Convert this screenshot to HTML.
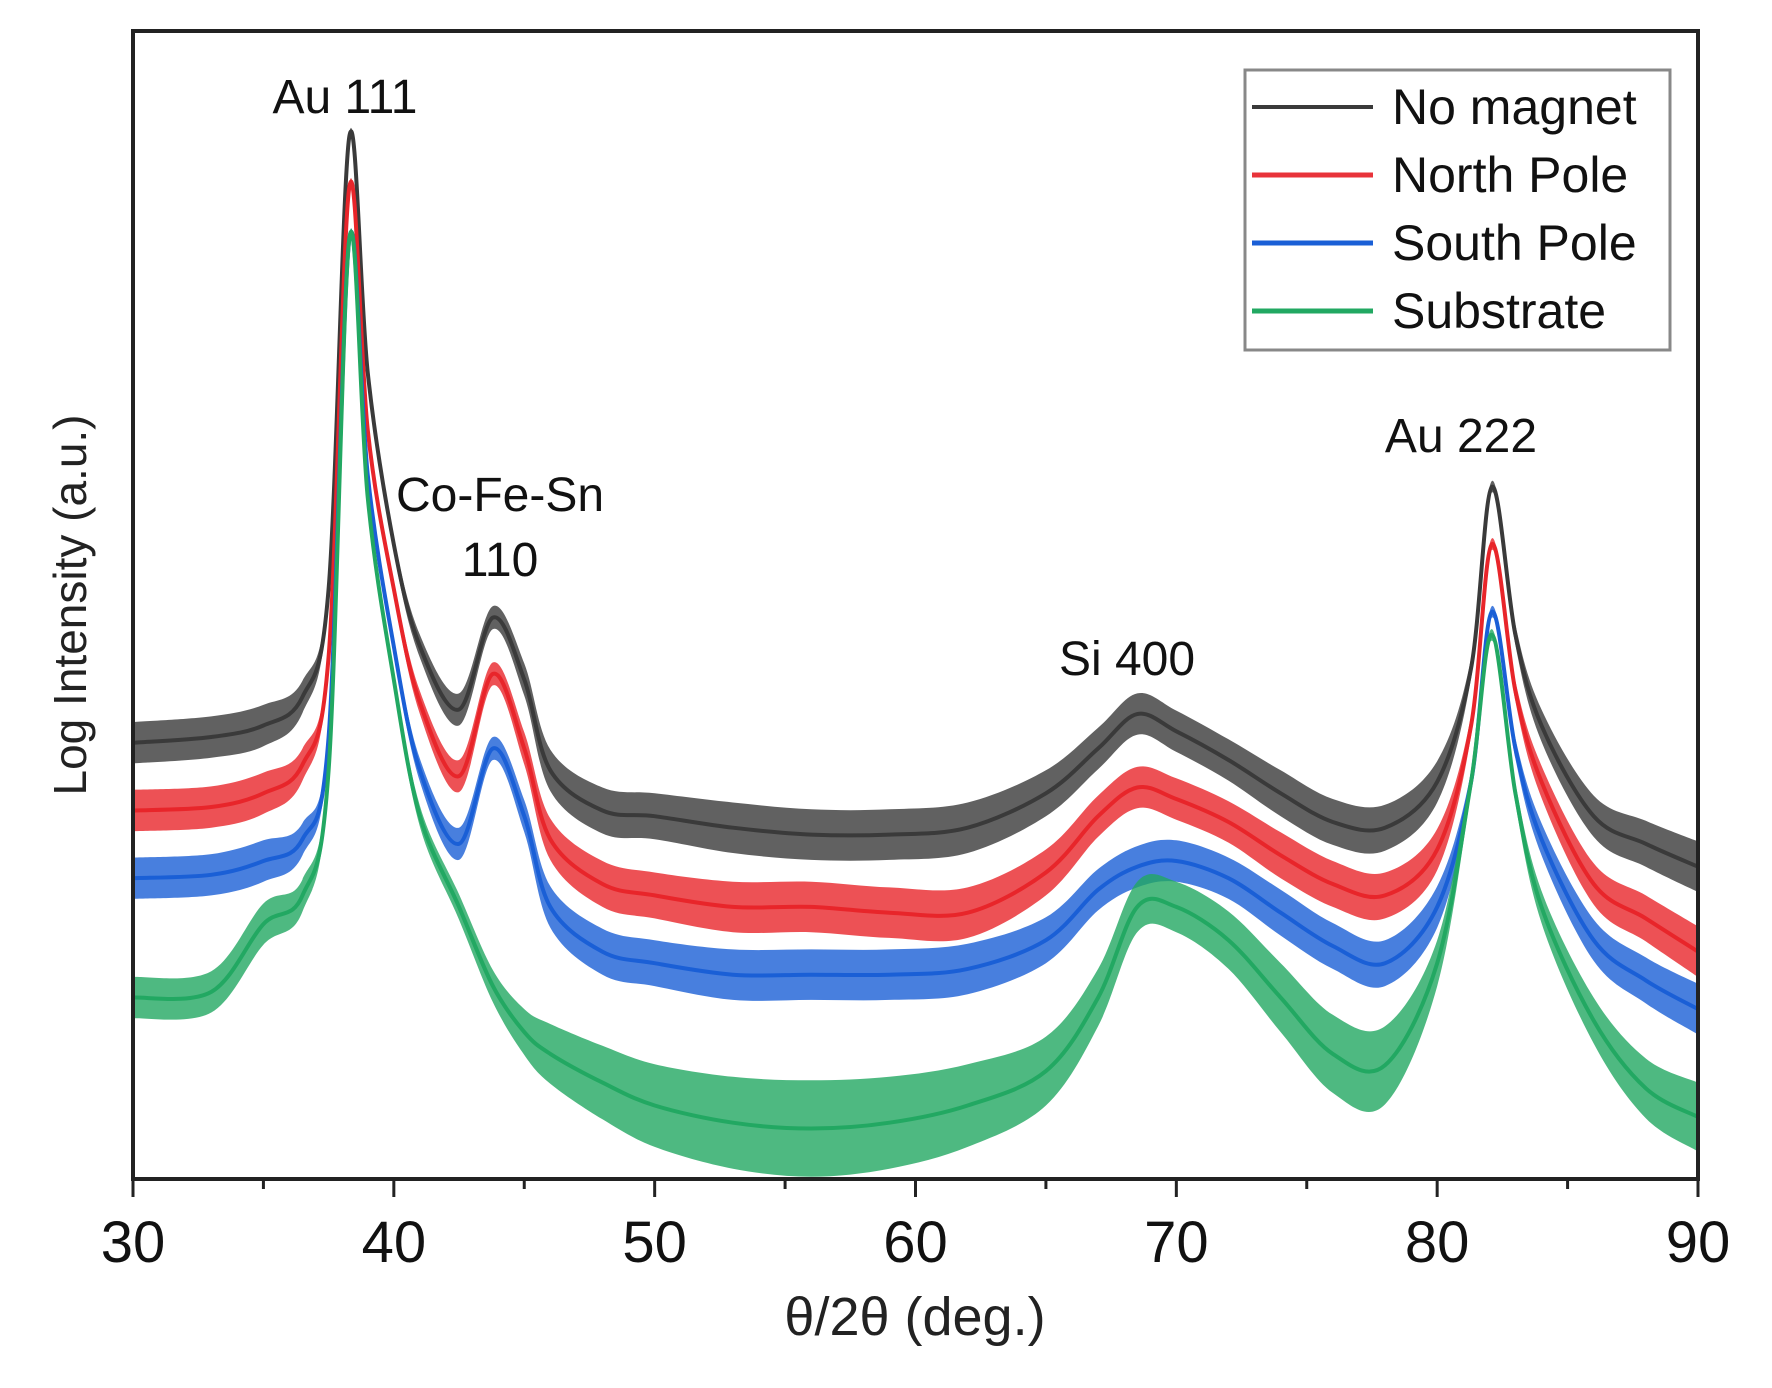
<!DOCTYPE html>
<html><head><meta charset="utf-8"><style>
html,body{margin:0;padding:0;background:#fff;}
svg{display:block;font-family:"Liberation Sans",sans-serif;}
</style></head><body>
<svg id="chart" width="1772" height="1388" viewBox="0 0 1772 1388">
<g id="series"></g>
<rect x="133" y="31" width="1565" height="1148" fill="none" stroke="#222" stroke-width="4"/>
<g id="xticks"></g>
<text x="915" y="1335" font-size="54" text-anchor="middle" fill="#222">θ/2θ (deg.)</text>
<text transform="translate(86,605) rotate(-90)" font-size="46" text-anchor="middle" fill="#222">Log Intensity (a.u.)</text>
<text x="345" y="113" font-size="48" text-anchor="middle" fill="#111">Au 111</text>
<text x="500" y="511" font-size="48" text-anchor="middle" fill="#111">Co-Fe-Sn</text>
<text x="500" y="576" font-size="48" text-anchor="middle" fill="#111">110</text>
<text x="1127" y="675" font-size="48" text-anchor="middle" fill="#111">Si 400</text>
<text x="1461" y="452" font-size="48" text-anchor="middle" fill="#111">Au 222</text>
<g>
<rect x="1245" y="70" width="425" height="280" fill="#fff" stroke="#888" stroke-width="3"/>
<line x1="1252" y1="107" x2="1373" y2="107" stroke="#3a3a3a" stroke-width="4"/>
<text x="1392" y="124" font-size="50" fill="#111">No magnet</text>
<line x1="1252" y1="175" x2="1373" y2="175" stroke="#e8333a" stroke-width="5"/>
<text x="1392" y="192" font-size="50" fill="#111">North Pole</text>
<line x1="1252" y1="243" x2="1373" y2="243" stroke="#1a5fd6" stroke-width="5"/>
<text x="1392" y="260" font-size="50" fill="#111">South Pole</text>
<line x1="1252" y1="311" x2="1373" y2="311" stroke="#22a862" stroke-width="5"/>
<text x="1392" y="328" font-size="50" fill="#111">Substrate</text>
</g>
</svg>
<script>
const xCats=[30,33,35,36.5,37.5,38.3,39,40,41,42.5,43.8,45,46,48,50,53,56,59,62,65,67,68.5,70,72,74,76,78,80,81.3,82.1,83,84,86,88,90];
const noMagnet=[38.0,38.5,39.5,42.0,51.4,90.9,70.2,55.3,46.4,40.9,48.9,43.5,35.6,32.1,31.6,30.6,30.0,30.0,30.6,33.6,37.5,40.5,39.0,36.5,33.6,31.1,30.6,34.6,44.5,60.3,47.4,39.5,31.6,29.2,27.2];
const northPole=[32.1,32.4,33.6,36.1,45.5,86.5,65.2,51.4,41.5,35.1,44.0,37.5,29.6,25.7,24.7,23.7,23.7,23.2,23.2,26.7,31.6,34.1,33.1,31.1,28.2,25.7,24.7,28.7,39.5,55.3,42.5,34.6,25.7,22.7,19.8];
const southPole=[26.2,26.5,27.7,29.6,38.5,82.0,61.3,46.4,35.6,29.2,37.5,31.6,23.7,19.8,18.8,17.8,17.8,17.8,18.3,20.8,25.2,27.2,27.7,26.2,23.2,20.3,18.8,23.7,34.6,49.4,37.5,29.6,20.8,17.3,14.8];
const substrate=[15.8,16.3,22.2,24.7,35.6,82.0,59.3,43.5,31.6,23.7,16.8,12.8,10.9,8.4,6.4,4.9,4.4,4.9,6.4,9.4,15.8,23.7,23.7,20.8,15.8,10.9,9.9,18.8,34.6,47.4,33.6,23.7,13.8,7.9,5.4];
const noiseSmall=[1.8,1.8,1.8,1.4,0.7,0.3,0.5,0.7,1.0,1.4,1.0,1.4,1.8,2.0,2.0,2.2,2.2,2.2,2.2,2.0,1.8,1.8,1.8,1.8,2.0,2.0,2.0,1.8,0.9,0.5,0.9,1.4,1.8,2.0,2.2];
const noiseGreen=[1.8,1.8,1.8,1.4,0.7,0.3,0.5,0.7,0.9,1.1,1.4,2.0,2.6,3.2,3.6,4.0,4.2,4.0,3.6,3.0,2.5,2.2,2.2,2.5,3.0,3.4,3.4,2.0,0.9,0.5,0.9,1.4,2.0,2.6,3.0];
const xTicks=[30,40,50,60,70,80,90];
const x0=133,x1=1698,yB=1179,yT=31;
function xs(v){return x0+(v-30)/(90-30)*(x1-x0);}
function ys(v){return yB-v/100*(yB-yT);}
const NS='http://www.w3.org/2000/svg';
function curve(pts){
  let d='M'+pts[0][0].toFixed(1)+','+pts[0][1].toFixed(1);
  for(let i=0;i<pts.length-1;i++){
    const p0=pts[Math.max(0,i-1)],p1=pts[i],p2=pts[i+1],p3=pts[Math.min(pts.length-1,i+2)];
    const c1x=p1[0]+(p2[0]-p0[0])/6,c1y=p1[1]+(p2[1]-p0[1])/6;
    const c2x=p2[0]-(p3[0]-p1[0])/6,c2y=p2[1]-(p3[1]-p1[1])/6;
    d+=' C'+c1x.toFixed(1)+','+c1y.toFixed(1)+' '+c2x.toFixed(1)+','+c2y.toFixed(1)+' '+p2[0].toFixed(1)+','+p2[1].toFixed(1);
  }
  return d;
}
const g=document.getElementById('series');
const defs=[[noMagnet,noiseSmall,'#3a3a3a','series-no-magnet'],[northPole,noiseSmall,'#e8252a','series-north-pole'],[southPole,noiseSmall,'#1a5fd6','series-south-pole'],[substrate,noiseGreen,'#22a862','series-substrate']];
defs.forEach(([vals,nz,col,name])=>{
  const up=xCats.map((x,i)=>[xs(x),ys(vals[i]+nz[i])]);
  const lo=xCats.map((x,i)=>[xs(x),ys(vals[i]-nz[i])]).reverse();
  const band=document.createElementNS(NS,'path');
  band.setAttribute('d',curve(up)+' L'+curve(lo).slice(1)+' Z');
  band.setAttribute('fill',col);
  band.setAttribute('opacity','0.8');
  
  
  g.appendChild(band);
  const p=document.createElementNS(NS,'path');
  p.setAttribute('d',curve(xCats.map((x,i)=>[xs(x),ys(vals[i])])));
  p.setAttribute('fill','none');p.setAttribute('stroke',col);p.setAttribute('stroke-width','4');
  
  
  g.appendChild(p);
});
const xt=document.getElementById('xticks');
for(let v=30;v<=90;v+=5){
  const major=v%10===0;
  const l=document.createElementNS(NS,'line');
  l.setAttribute('x1',xs(v));l.setAttribute('x2',xs(v));
  l.setAttribute('y1',yB);l.setAttribute('y2',yB+(major?18:10));
  l.setAttribute('stroke','#222');l.setAttribute('stroke-width','3');
  
  
  xt.appendChild(l);
}
xTicks.forEach(v=>{
  const t=document.createElementNS(NS,'text');
  t.setAttribute('x',xs(v));t.setAttribute('y',1262);
  t.setAttribute('font-size','58');t.setAttribute('text-anchor','middle');t.setAttribute('fill','#111');
  t.textContent=v;
  
  
  xt.appendChild(t);
});
</script>
</body></html>
